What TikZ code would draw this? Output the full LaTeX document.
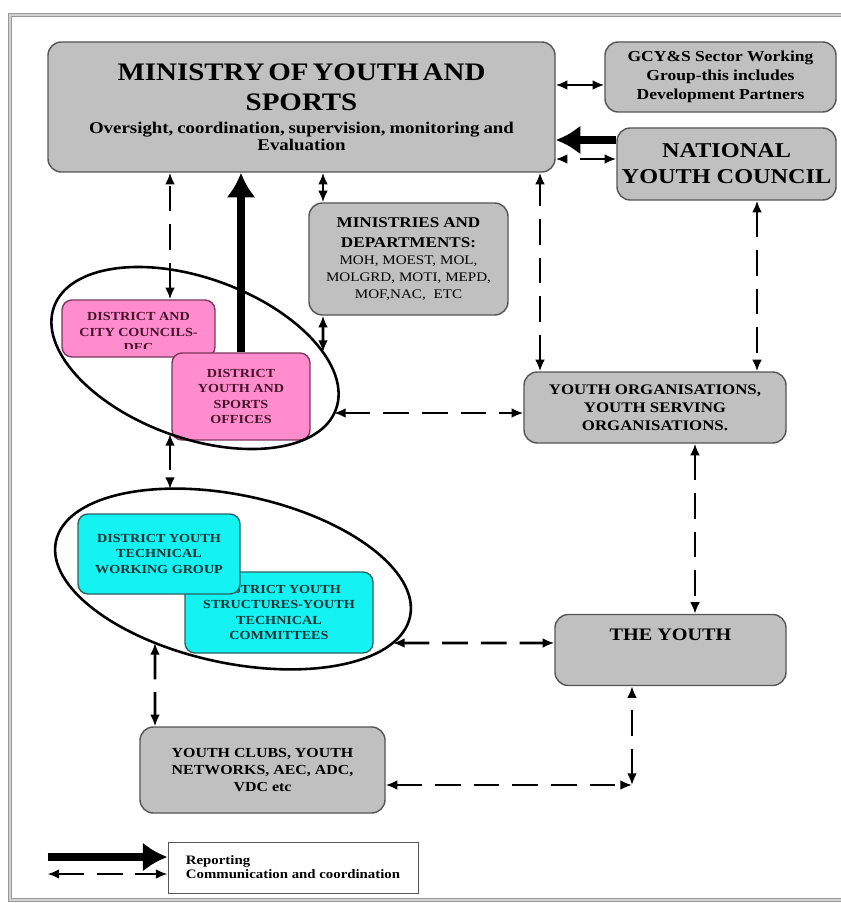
\documentclass[tikz,border=0pt]{standalone}
\usepackage{fontspec}
\setmainfont{Liberation Serif}[FakeStretch=1.15]
\usepackage{tikz}
\usetikzlibrary{arrows.meta}
\usetikzlibrary{positioning}

\definecolor{boxgrey}{RGB}{192,192,192}
\definecolor{boxline}{RGB}{85,85,85}
\definecolor{pinkfill}{RGB}{255,140,204}
\definecolor{pinkline}{RGB}{125,55,95}
\definecolor{pinktext}{RGB}{70,20,45}
\definecolor{cyanfill}{RGB}{20,242,242}
\definecolor{cyanline}{RGB}{40,100,100}
\definecolor{cyantext}{RGB}{20,50,50}

\begin{document}
\begin{tikzpicture}
    [
    x=0.03cm, y=-0.03cm,
    boxsize/.style 2 args={minimum width=#1*0.03cm, minimum height=#2*0.03cm},
    box/.style={draw=boxline, line width=1.2pt, rounded corners=0.4cm, align=center, inner sep=0pt, font=\bfseries},
    greybox/.style={box, fill=boxgrey},
    pinkbox/.style={box, fill=pinkfill, draw=pinkline, text=pinktext, rounded corners=0.3cm,
      font={\bfseries\fontsize{10.5}{13}\selectfont}},
    cyanbox/.style={box, fill=cyanfill, draw=cyanline, text=cyantext, rounded corners=0.3cm,
      font={\bfseries\fontsize{10.5}{13}\selectfont}},
    ring/.style={line width=2.2pt},
    report/.style={line width=7.6pt, -{Latex[length=21pt,width=25pt]}},
    link/.style={line width=2.5pt, {Latex[length=10pt,width=8.5pt]}-{Latex[length=10pt,width=8.5pt]}},
    comm/.style={link, dash pattern=on 22pt off 11pt},
    outerframe/.style={draw=gray!80, line width=1.2pt, double=gray!35, double distance=1.2pt},
    ]
    \useasboundingbox (0,0) rectangle (840,903);
    \draw [outerframe] (10,15) rectangle (870,900);

    % top row
    \node (ministry) at (301.5,107) [greybox, boxsize={507}{130}, text width=15cm] {%
      {\fontsize{21.5}{25.5}\selectfont MINISTRY OF YOUTH AND\\SPORTS\par}
      \vspace{6pt}
      {\fontsize{14}{14}\selectfont Oversight, coordination, supervision, monitoring and\\Evaluation\par}};
    \node (gcy) at (720.5,77) [greybox, boxsize={231}{70}, font={\bfseries\fontsize{13}{16}\selectfont}]
      {GCY\&S Sector Working\\Group-this includes\\Development Partners};
    \node (nyc) at (726.5,164) [greybox, boxsize={219}{72}, font={\bfseries\fontsize{18}{22}\selectfont}]
      {NATIONAL\\YOUTH COUNCIL};
    \node (mindep) at (408.5,259) [greybox, boxsize={199}{112}, text width=5.7cm] {%
      {\fontsize{12.7}{17}\selectfont MINISTRIES AND\\DEPARTMENTS:\par}
      {\mdseries\fontsize{11.2}{14.5}\selectfont MOH, MOEST, MOL,\\MOLGRD, MOTI, MEPD,\\MOF,NAC,\ \ ETC\par}};

    % district level
    \node (dcc) at (138.5,328.5) [pinkbox, boxsize={153}{57},
      path picture={
        \clip (path picture bounding box.north west) rectangle ([yshift=0.27cm]path picture bounding box.south east);
        \node [align=center, text=pinktext, font={\bfseries\fontsize{10.5}{13}\selectfont}]
          at ([yshift=-0.105cm]path picture bounding box.center) {DISTRICT AND\\CITY COUNCILS-\\DEC};
      }] {};
    \node (dyso) at (241,396.5) [pinkbox, boxsize={138}{87}] {DISTRICT\\YOUTH AND\\SPORTS\\OFFICES};
    \node (yorg) at (655,407.5) [greybox, boxsize={262}{71}, font={\bfseries\fontsize{12.5}{15.3}\selectfont}]
      {YOUTH ORGANISATIONS,\\YOUTH SERVING\\ORGANISATIONS.};
    \draw [ring, rotate around={-20:(195,358)}] (195,358) ellipse [x radius=150, y radius=80];

    \node (dys) at (279,612.5) [cyanbox, boxsize={188}{81}] {DISTRICT YOUTH\\STRUCTURES-YOUTH\\TECHNICAL\\COMMITTEES};
    \node (dytwg) at (159,554) [cyanbox, boxsize={162}{80}] {DISTRICT YOUTH\\TECHNICAL\\WORKING GROUP};
    \draw [ring, rotate around={-12:(233,579)}] (233,579) ellipse [x radius=181, y radius=84];

    \node (youth) at (670.5,650) [greybox, boxsize={231}{71}, font={\bfseries\fontsize{15}{18}\selectfont},
      text height=10pt, text depth=25.6pt] {THE YOUTH};
    \node (clubs) at (262.5,770) [greybox, boxsize={245}{86}, font={\bfseries\fontsize{11.8}{14.5}\selectfont}]
      {YOUTH CLUBS, YOUTH\\NETWORKS, AEC, ADC,\\VDC etc};

    % connector ends
    \coordinate (gcyL) at ([yshift=-0.24cm]gcy.west);
    \coordinate (nycA) at ([yshift=0.72cm]nyc.west);
    \coordinate (nycB) at ([yshift=0.15cm]nyc.west);
    \coordinate (dccT) at ([xshift=0.945cm]dcc.north);
    \coordinate (mdT) at ([xshift=-2.565cm]mindep.north);
    \coordinate (mdB) at ([xshift=-2.565cm]mindep.south);
    \coordinate (orgT) at ([xshift=-3.45cm]yorg.north);
    \coordinate (nycS) at ([xshift=0.915cm]nyc.south);
    \coordinate (orgL) at ([yshift=-0.165cm]yorg.west);
    \coordinate (orgS) at ([xshift=1.2cm]yorg.south);
    \coordinate (youthL) at ([yshift=0.21cm]youth.west);
    \coordinate (youthS) at ([xshift=-1.155cm]youth.south);
    \coordinate (clubsT) at ([xshift=-3.225cm]clubs.north);
    \coordinate (clubsR) at ([yshift=-0.45cm]clubs.east);
    \coordinate (bend) at (youthS |- clubsR);
    \coordinate (ringAtop) at (323,352);
    \coordinate (ringAright) at (334,413);
    \coordinate (ringAbot) at (170,434);
    \coordinate (ringBtop) at (170,489);
    \coordinate (ringBright) at (393,643);
    \coordinate (ringBbot) at (155,643);

    \draw [link] (gcyL) -- (gcyL -| ministry.east);
    \draw [report] (nycA) -- (nycA -| ministry.east);
    \draw [comm] (nycB) -- (nycB -| ministry.east);
    \draw [comm] (dccT) -- (dccT |- ministry.south);
    \draw [report] (dyso.north) -- (dyso.north |- ministry.south);
    \draw [link] (mdT) -- (mdT |- ministry.south);
    \draw [link] (mdB) -- (ringAtop);
    \draw [comm] (orgT) -- (orgT |- ministry.south);
    \draw [comm] (nycS) -- (nycS |- yorg.north);
    \draw [comm] (ringAright) -- (orgL);
    \draw [comm] (ringAbot) -- (ringBtop);
    \draw [comm] (orgS) -- (orgS |- youth.north);
    \draw [comm] (ringBright) -- (youthL);
    \draw [comm] (ringBbot) -- (clubsT);
    \draw [comm] (clubsR) -- (bend);
    \draw [comm] (bend) -- (youthS);

    % key
    \node (legend) at (293,867.5) [box, fill=white, line width=0.8pt, rounded corners=0pt, boxsize={250}{51},
      align=left, font={\bfseries\fontsize{11}{12}\selectfont}] {Reporting\\Communication and coordination};
    \coordinate [left=3.6cm of legend.west, yshift=0.315cm] (keyA);
    \coordinate [left=3.6cm of legend.west, yshift=-0.195cm] (keyB);
    \draw [report] (keyA) -- (keyA -| legend.west);
    \draw [comm] (keyB) -- (keyB -| legend.west);
  \end{tikzpicture}
\end{document}
